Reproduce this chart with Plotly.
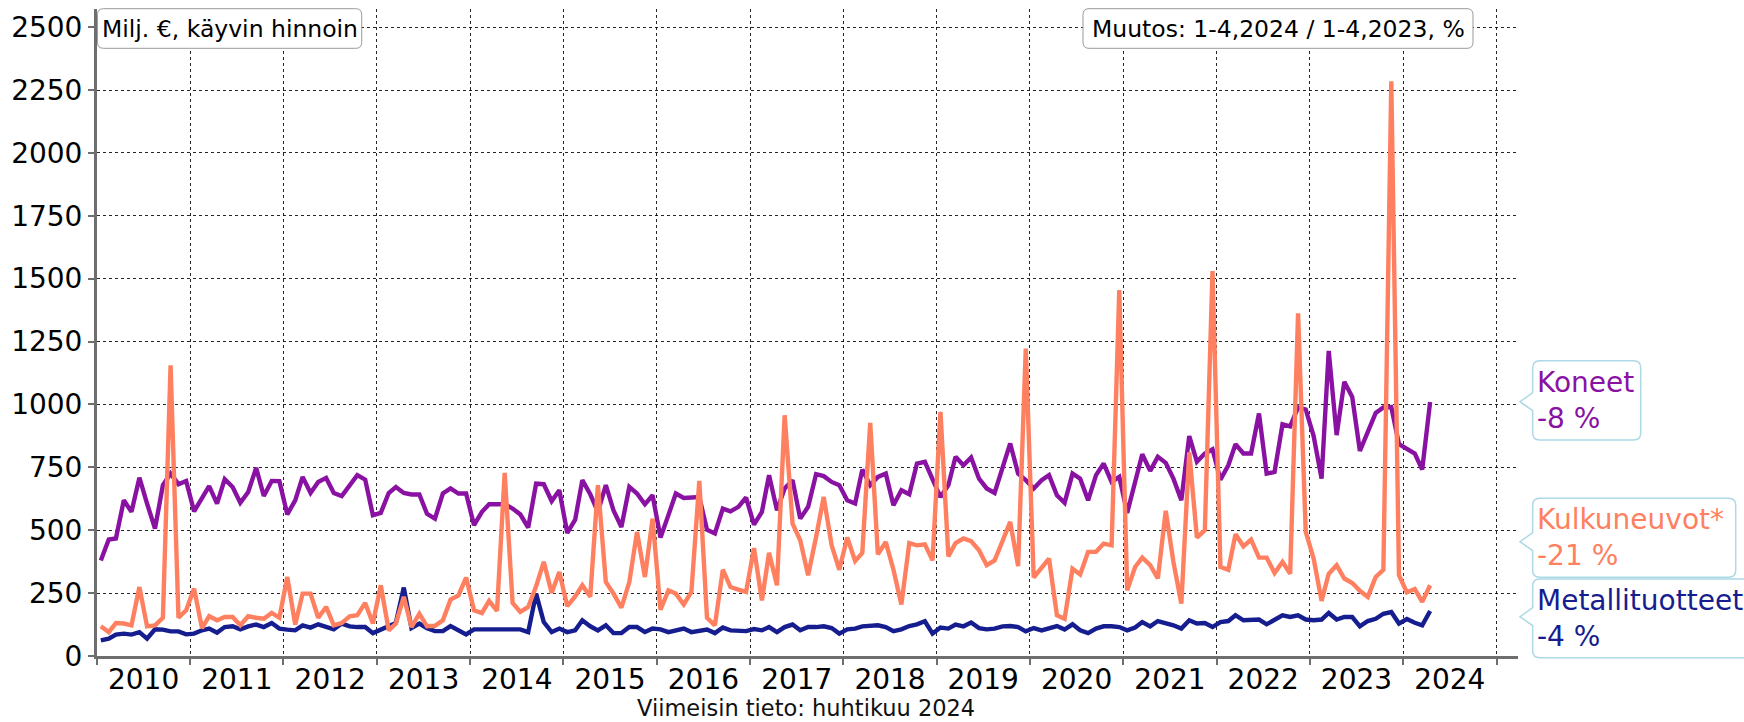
import plotly.graph_objects as go
import pandas as pd

# ---------------- data (monthly, Jan 2010 - Apr 2024) ----------------
start_month = "2010-01-01"
n_months = 172

koneet = [
    380, 463, 467, 619, 573, 709, 606, 506, 679, 725, 683, 696,
    575, 626, 675, 606, 703, 672, 609, 652, 748, 636, 696, 695,
    563, 619, 712, 648, 692, 708, 648, 636, 679, 719, 701, 560,
    569, 648, 672, 648, 642, 642, 565, 546, 646, 666, 646, 646,
    520, 573, 603, 603, 603, 586, 563, 510, 685, 683, 616, 659,
    489, 542, 699, 643, 573, 679, 579, 513, 672, 646, 603, 639,
    471, 560, 646, 628, 632, 632, 502, 487, 586, 575, 593, 630,
    522, 573, 719, 579, 666, 699, 546, 593, 723, 715, 692, 679,
    619, 606, 741, 679, 712, 725, 599, 659, 643, 765, 772, 699,
    632, 679, 792, 758, 789, 705, 666, 648, 752, 845, 725, 699,
    666, 699, 719, 639, 609, 725, 705, 619, 719, 765, 692, 712,
    569, 699, 802, 736, 792, 768, 705, 619, 874, 772, 805, 822,
    701, 758, 842, 805, 805, 964, 725, 732, 921, 913, 988, 980,
    874, 705, 1213, 878, 1090, 1030, 815, 891, 966, 988, 990, 842,
    825, 805, 741, 1010,
]

kulkuneuvot = [
    118, 95, 131, 129, 122, 274, 118, 122, 152, 1156, 152, 182,
    268, 111, 158, 142, 155, 155, 122, 158, 152, 148, 171, 152,
    314, 125, 248, 248, 152, 195, 122, 131, 158, 162, 211, 129,
    281, 102, 129, 235, 115, 168, 118, 120, 142, 224, 241, 312,
    182, 171, 219, 179, 728, 211, 175, 195, 277, 374, 251, 334,
    198, 237, 281, 235, 679, 294, 248, 192, 294, 493, 314, 546,
    184, 261, 248, 205, 255, 696, 152, 122, 343, 274, 264, 255,
    429, 221, 410, 281, 957, 526, 460, 321, 473, 632, 440, 343,
    471, 378, 410, 927, 404, 453, 343, 205, 449, 440, 444, 380,
    970, 396, 449, 467, 457, 420, 361, 380, 457, 533, 357, 1222,
    312, 354, 387, 162, 148, 347, 324, 414, 414, 447, 440, 1455,
    261, 354, 391, 361, 308, 577, 374, 208, 810, 471, 500, 1530,
    354, 343, 484, 436, 463, 391, 391, 330, 374, 327, 1362, 493,
    387, 219, 327, 361, 308, 290, 259, 235, 314, 343, 2285, 321,
    253, 266, 215, 281,
]

metallituotteet = [
    62, 69, 85, 89, 85, 95, 69, 106, 105, 98, 98, 86,
    89, 102, 109, 93, 115, 118, 106, 118, 125, 115, 131, 109,
    105, 102, 122, 113, 126, 118, 106, 129, 118, 115, 115, 91,
    105, 115, 131, 272, 111, 129, 110, 99, 99, 119, 102, 86,
    106, 106, 102, 106, 106, 106, 106, 95, 248, 135, 95, 109,
    95, 102, 142, 118, 102, 122, 91, 91, 115, 115, 95, 109,
    106, 95, 102, 109, 95, 99, 105, 91, 113, 102, 99, 99,
    107, 102, 115, 95, 115, 125, 102, 115, 115, 118, 111, 89,
    106, 109, 118, 119, 122, 115, 99, 106, 119, 126, 138, 89,
    113, 109, 125, 118, 133, 111, 106, 109, 118, 119, 115, 98,
    111, 102, 109, 119, 105, 126, 102, 91, 109, 118, 118, 115,
    102, 113, 135, 118, 139, 131, 122, 109, 142, 129, 131, 115,
    135, 139, 162, 142, 145, 145, 126, 145, 162, 155, 162, 145,
    142, 145, 171, 145, 155, 155, 118, 139, 148, 168, 175, 129,
    147, 132, 122, 179,
]

series_names = ["Koneet", "Kulkuneuvot*", "Metallituotteet"]
series_changes = ["-8 %", "-21 %", "-4 %"]
y_ticks = [0, 250, 500, 750, 1000, 1250, 1500, 1750, 2000, 2250, 2500]

# ---------------- styling ----------------
C_KON = "#8A12A3"
C_KUL = "#FF8060"
C_MET = "#161E8F"
FONT = "DejaVu Sans, Verdana, sans-serif"
AXIS_GRAY = "#6e6e6e"

W, H = 1744, 722
L, R, T, B = 97, 226, 9, 66
PW = W - L - R
PH = H - T - B

months = pd.date_range(start_month, periods=n_months, freq="MS") + pd.Timedelta(days=15)

fig = go.Figure()
for vals, name, col in [(koneet, series_names[0], C_KON),
                        (metallituotteet, series_names[2], C_MET),
                        (kulkuneuvot, series_names[1], C_KUL)]:
    fig.add_trace(go.Scatter(x=months, y=vals, mode="lines", name=name,
                             line=dict(color=col, width=4.4),
                             hoverinfo="x+y+name"))


def pp(x, y):
    """pixel -> paper coordinates"""
    return (x - L) / PW, (H - B - y) / PH


def box_path(x0, y0, x1, y1, r, pointer=None):
    pts = []
    def P(cmd, *coords):
        out = []
        for i in range(0, len(coords), 2):
            px, py = pp(coords[i], coords[i + 1])
            out.append(f"{px:.5f},{py:.5f}")
        pts.append(cmd + " " + " ".join(out))
    P("M", x0 + r, y0)
    P("L", x1 - r, y0)
    P("Q", x1, y0, x1, y0 + r)
    P("L", x1, y1 - r)
    P("Q", x1, y1, x1 - r, y1)
    P("L", x0 + r, y1)
    P("Q", x0, y1, x0, y1 - r)
    if pointer:
        tx, ty, half = pointer
        P("L", x0, ty + half)
        P("L", tx, ty)
        P("L", x0, ty - half)
    P("L", x0, y0 + r)
    P("Q", x0, y0, x0 + r, y0)
    return " ".join(pts) + " Z"


shapes = []
annotations = []

# top info boxes
for (x0, x1, text) in [(97.5, 361.7, "Milj. €, käyvin hinnoin"),
                       (1083, 1473, "Muutos: 1-4,2024 / 1-4,2023, %")]:
    shapes.append(dict(type="path", path=box_path(x0, 8.7, x1, 48.3, 6),
                       xref="paper", yref="paper", fillcolor="white",
                       line=dict(color="#9a9a9a", width=1), layer="above"))
    cx, cy = pp((x0 + x1) / 2, 29)
    annotations.append(dict(text=text, x=cx, y=cy, xref="paper", yref="paper",
                            xanchor="center", yanchor="middle", showarrow=False,
                            font=dict(size=23.5, color="black", family=FONT)))

# right-side callouts
callouts = [
    (series_names[0], series_changes[0], C_KON, 360.7, 440.0, 1640.7, 401.7),
    (series_names[1], series_changes[1], C_KUL, 498.3, 577.3, 1735.7, 541.7),
    (series_names[2], series_changes[2], C_MET, 579.0, 657.7, 1752.0, 616.7),
]
for name, chg, col, y0, y1, x1, ty in callouts:
    shapes.append(dict(type="path",
                       path=box_path(1532.7, y0, x1, y1, 7, pointer=(1520, ty, 9)),
                       xref="paper", yref="paper", fillcolor="white",
                       line=dict(color="#add8e6", width=1.5), layer="above"))
    ax, ay = pp(1535, (y0 + y1) / 2)
    annotations.append(dict(text=f"{name}<br>{chg}", x=ax, y=ay,
                            xref="paper", yref="paper", xanchor="left",
                            yanchor="middle", align="left", showarrow=False,
                            font=dict(size=28, color=col, family=FONT)))

# footnote
fx, fy = pp(806, 708)
annotations.append(dict(text="Viimeisin tieto: huhtikuu 2024", x=fx, y=fy,
                        xref="paper", yref="paper", xanchor="center",
                        yanchor="middle", showarrow=False,
                        font=dict(size=22.5, color="#111", family=FONT)))

fig.update_layout(
    width=W, height=H,
    margin=dict(l=L, r=R, t=T, b=B, pad=0),
    paper_bgcolor="white", plot_bgcolor="white",
    showlegend=False,
    font=dict(family=FONT, size=28, color="black"),
    shapes=shapes, annotations=annotations,
    xaxis=dict(
        type="date",
        range=["2010-01-01", "2025-03-26"],
        tick0="2010-01-01", dtick="M12", tickformat="%Y",
        ticklabelmode="period",
        ticklabelstandoff=-10,
        ticks="outside", ticklen=6, tickwidth=1.5, tickcolor=AXIS_GRAY,
        showline=True, linecolor=AXIS_GRAY, linewidth=3,
        showgrid=True, gridcolor="rgba(0,0,0,0.85)", gridwidth=1, griddash="dot",
        tickfont=dict(size=28, color="black", family=FONT),
        zeroline=False, fixedrange=True,
    ),
    yaxis=dict(
        range=[0, 2572],
        tickmode="array", tickvals=y_ticks, ticktext=[str(v) for v in y_ticks],
        ticks="outside", ticklen=6, tickwidth=1.5, tickcolor=AXIS_GRAY,
        showline=True, linecolor=AXIS_GRAY, linewidth=3,
        showgrid=True, gridcolor="rgba(0,0,0,0.85)", gridwidth=1, griddash="dot",
        tickfont=dict(size=28, color="black", family=FONT),
        zeroline=False, fixedrange=True,
    ),
)

fig.write_html(
    "out.html",
    config={"displayModeBar": False},
    post_script="document.body.style.margin='0';document.body.style.overflow='hidden';",
)
